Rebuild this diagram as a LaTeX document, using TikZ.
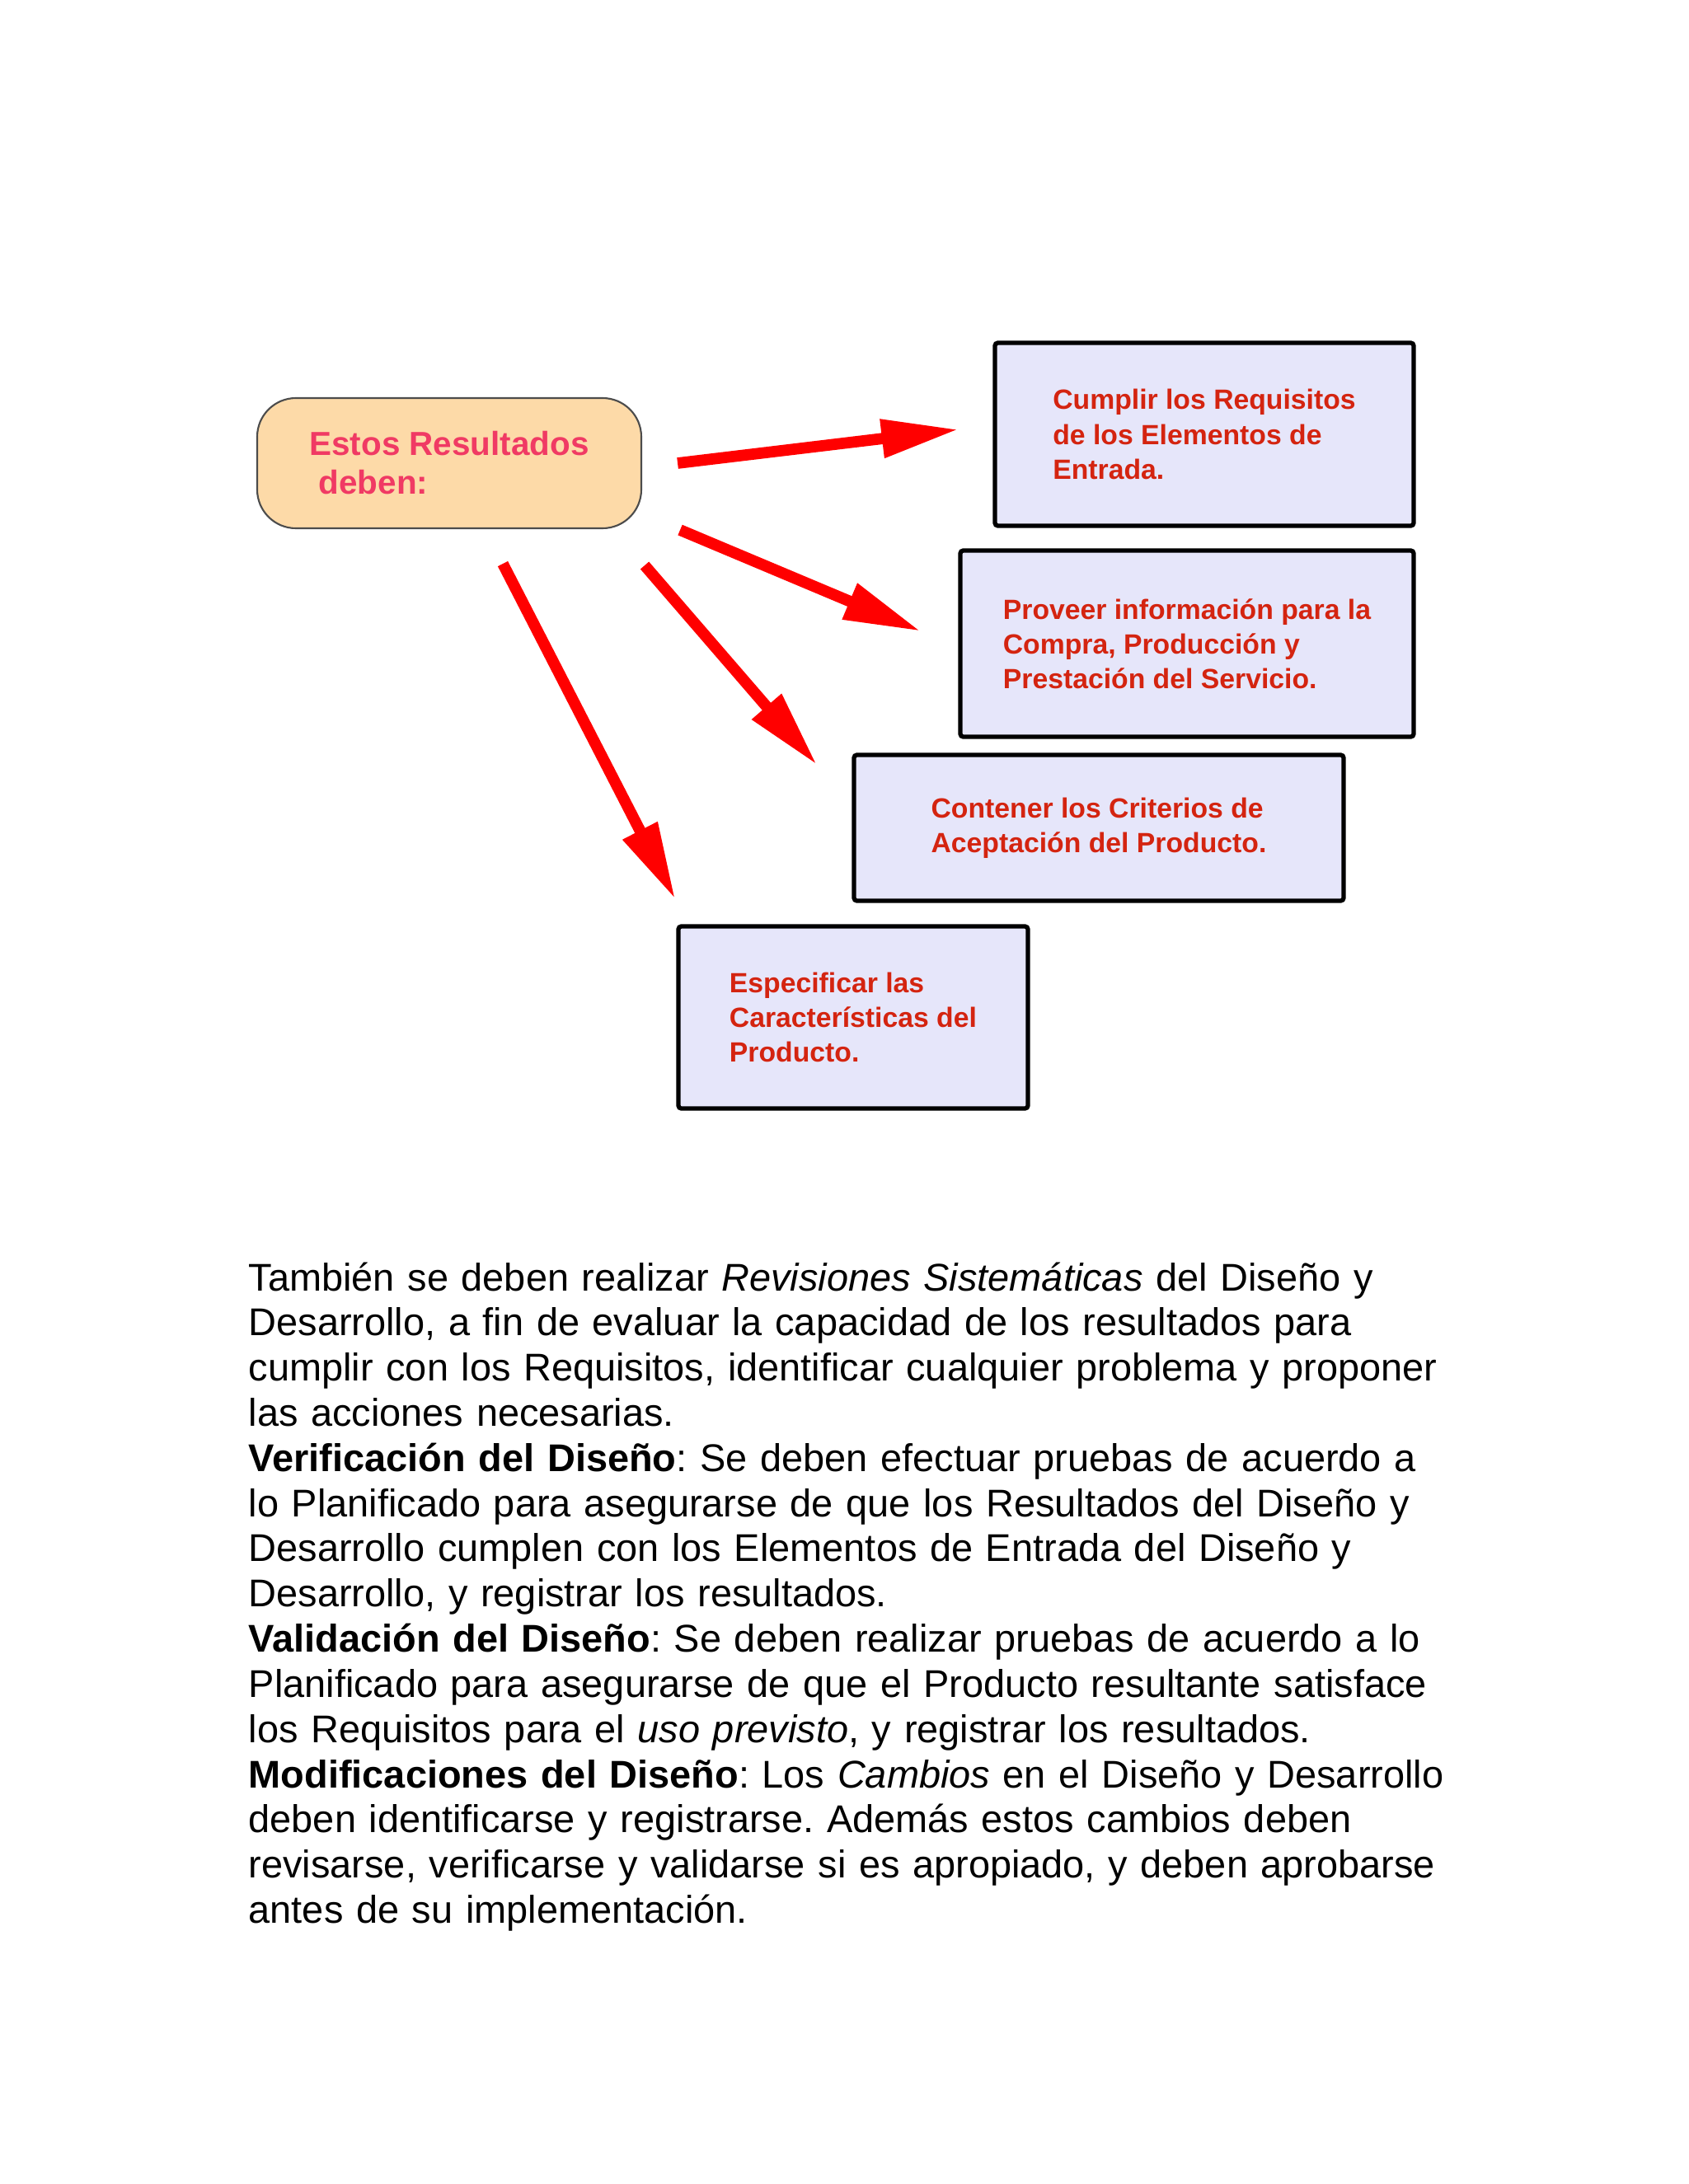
\documentclass[tikz,border=0pt]{standalone}
\usepackage{fontspec}
\setmainfont{Liberation Sans}
\usetikzlibrary{arrows.meta,%
                calc}
\definecolor{rojoflecha}{RGB}{255,0,0}
\definecolor{rojotexto}{RGB}{212,36,16}
\definecolor{rosatexto}{RGB}{240,58,100}
\definecolor{naranja}{RGB}{253,218,168}
\definecolor{lavanda}{RGB}{230,230,250}
\tikzset{resbox/.style={draw=black!70, line width=0.6pt, fill=naranja,
                        rounded corners=0.47cm, inner sep=0pt, align=left,
                        text=rosatexto, font=\fontsize{11.5pt}{13.4pt}\selectfont\bfseries},
         debebox/.style={draw=black, line width=1.5pt, fill=lavanda,
                         rounded corners=1pt, inner sep=0pt, align=left,
                         text=rojotexto, font=\fontsize{9.6pt}{12pt}\selectfont\bfseries},
         flecha/.style={draw=rojoflecha, line width=3.9pt,
                        -{Triangle[length=0.94cm,width=0.44cm]}}}

\begin{document}
\frenchspacing
\begin{tikzpicture}

\useasboundingbox (0,0) rectangle (20.48,-26.5);

\node[resbox, minimum width=4.66cm, minimum height=1.58cm] (res) at (5.45,-5.62)
  {Estos Resultados\\\hspace*{0.28em}deben:};

\node[debebox, minimum width=5.08cm, minimum height=2.22cm] (cumplir) at (14.61,-5.27)
  {Cumplir los Requisitos\\de los Elementos de\\Entrada.};
\node[debebox, minimum width=5.50cm, minimum height=2.26cm] (proveer) at (14.40,-7.81)
  {Proveer información para la\\Compra, Producción y\\Prestación del Servicio.};
\node[debebox, minimum width=5.94cm, minimum height=1.77cm] (contener) at (13.33,-10.045)
  {Contener los Criterios de\\Aceptación del Producto.};
\node[debebox, minimum width=4.24cm, minimum height=2.21cm] (especificar) at (10.35,-12.345)
  {Especificar las\\Características del\\Producto.};

\coordinate (r1) at ($(res.east)+(0.43,0)$);
\coordinate (r2) at ($(res.south east)+(0.46,-0.01)$);
\coordinate (r3) at ($(res.south east)+(0.03,-0.44)$);
\coordinate (r4) at ($(res.south)+(0.65,-0.42)$);
\coordinate (c1) at ($(cumplir.west)+(-0.41,0.06)$);
\coordinate (c2) at ($(proveer.west)+(-0.45,0.15)$);
\coordinate (c3) at ($(contener.north west)+(-0.42,-0.15)$);
\coordinate (c4) at ($(especificar.north west)+(-0.01,0.30)$);

\draw[flecha] (r1) -- (c1);
\draw[flecha] (r2) -- (c2);
\draw[flecha] (r3) -- (c3);
\draw[flecha] (r4) -- (c4);

\node[anchor=base west, inner sep=0pt, text width=16cm, align=left,
      font=\fontsize{13.35pt}{15.6pt}\selectfont] (texto) at (3.01,-15.66)
  {También se deben realizar \textit{Revisiones Sistemáticas} del Diseño y\\
   Desarrollo, a fin de evaluar la capacidad de los resultados para\\
   cumplir con los Requisitos, identificar cualquier problema y proponer\\
   las acciones necesarias.\\
   \textbf{Verificación del Diseño}: Se deben efectuar pruebas de acuerdo a\\
   lo Planificado para asegurarse de que los Resultados del Diseño y\\
   Desarrollo cumplen con los Elementos de Entrada del Diseño y\\
   Desarrollo, y registrar los resultados.\\
   \textbf{Validación del Diseño}: Se deben realizar pruebas de acuerdo a lo\\
   Planificado para asegurarse de que el Producto resultante satisface\\
   los Requisitos para el \textit{uso previsto}, y registrar los resultados.\\
   \textbf{Modificaciones del Diseño}: Los \textit{Cambios} en el Diseño y Desarrollo\\
   deben identificarse y registrarse. Además estos cambios deben\\
   revisarse, verificarse y validarse si es apropiado, y deben aprobarse\\
   antes de su implementación.};

\end{tikzpicture}
\end{document}
